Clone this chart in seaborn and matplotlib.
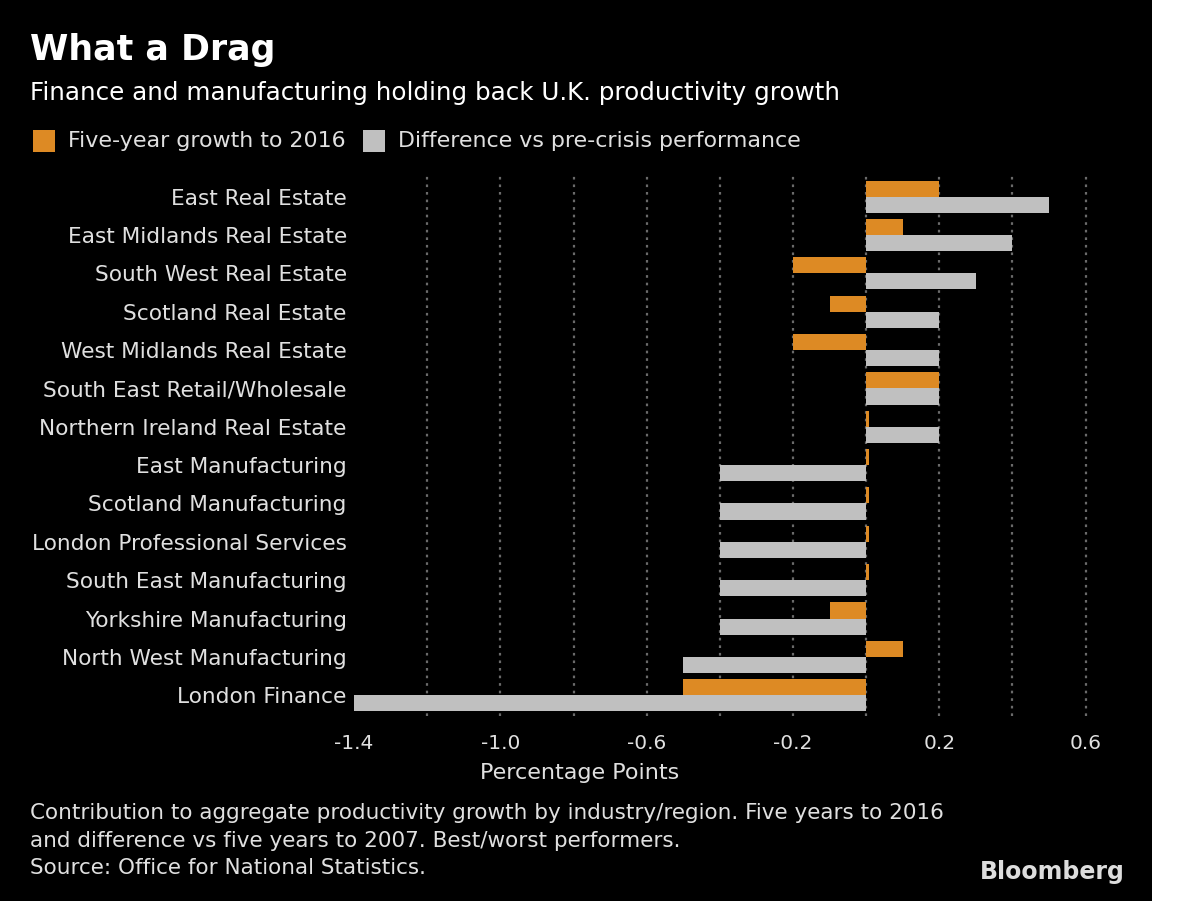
import numpy as np
import pandas as pd
import matplotlib
matplotlib.use("Agg")
import matplotlib.pyplot as plt
from matplotlib.patches import Rectangle
import seaborn as sns

# Data
categories = [
    "East Real Estate", "East Midlands Real Estate", "South West Real Estate",
    "Scotland Real Estate", "West Midlands Real Estate", "South East Retail/Wholesale",
    "Northern Ireland Real Estate", "East Manufacturing", "Scotland Manufacturing",
    "London Professional Services", "South East Manufacturing", "Yorkshire Manufacturing",
    "North West Manufacturing", "London Finance",
]
growth_2016 = [0.2, 0.1, -0.2, -0.1, -0.2, 0.2, 0.008, 0.008, 0.008, 0.008, 0.008, -0.1, 0.1, -0.5]
diff_precrisis = [0.5, 0.4, 0.3, 0.2, 0.2, 0.2, 0.2, -0.4, -0.4, -0.4, -0.4, -0.4, -0.5, -1.4]
series_names = ["Five-year growth to 2016", "Difference vs pre-crisis performance"]
tick_values = [-1.4, -1.0, -0.6, -0.2, 0.2, 0.6]
tick_labels = ["-1.4", "-1.0", "-0.6", "-0.2", "0.2", "0.6"]

orange = "#DD8A24"
grey = "#C0C0C0"
txt = "#E0E0E0"

df = pd.DataFrame({
    "category": categories * 2,
    "value": growth_2016 + diff_precrisis,
    "series": [series_names[0]] * len(categories) + [series_names[1]] * len(categories),
})

sns.set_theme(style="dark")
plt.rcParams["font.family"] = ["DejaVu Sans"]

W, H = 1200, 901
fig = plt.figure(figsize=(12, 9.01), dpi=100, facecolor="black")
ax = fig.add_axes([0.289, 0.205, 0.64, 0.601])
ax.set_facecolor("black")

sns.barplot(data=df, y="category", x="value", hue="series", order=categories,
            hue_order=series_names, palette=[orange, grey], width=0.84,
            orient="h", ax=ax, legend=False, saturation=1, linewidth=0)

# dotted vertical gridlines every 0.2
for g in np.arange(-1.2, 0.61, 0.2):
    ax.axvline(g, color="#6a6a6a", linestyle=(0, (1.2, 2.2)), linewidth=1.6, zorder=0)

ax.set_xlim(-1.42, 0.68)
ax.set_ylim(13.55, -0.57)
ax.set_xticks(tick_values)
ax.set_xticklabels(tick_labels)
ax.tick_params(axis="x", colors=txt, labelsize=14.5, length=0, pad=13)
ax.tick_params(axis="y", colors=txt, labelsize=15.6, length=0, pad=0)
ax.set_xlabel("")
ax.set_ylabel("")
ax.grid(False)
for s in ax.spines.values():
    s.set_visible(False)

# titles
fig.text(30 / W, 1 - 50 / H, "What a Drag", color="white", fontsize=25,
         fontweight="bold", va="center", ha="left")
fig.text(30 / W, 1 - 93 / H, "Finance and manufacturing holding back U.K. productivity growth",
         color="white", fontsize=17.7, va="center", ha="left")

# legend: square swatches + labels
legend_items = [(33, 68, orange, series_names[0]), (363, 398, grey, series_names[1])]
for sx, tx, col, lab in legend_items:
    fig.patches.append(Rectangle((sx / W, 1 - 152 / H), 22 / W, 22 / H,
                                 transform=fig.transFigure, facecolor=col, edgecolor="none"))
    fig.text(tx / W, 1 - 141 / H, lab, color=txt, fontsize=15.9, ha="left", va="center")

fig.text(580 / W, 1 - 773 / H, "Percentage Points", color=txt, fontsize=16,
         ha="center", va="center")

fig.text(30 / W, 1 - 813 / H,
         "Contribution to aggregate productivity growth by industry/region. Five years to 2016",
         color=txt, fontsize=15.5, ha="left", va="center")
fig.text(30 / W, 1 - 841 / H,
         "and difference vs five years to 2007. Best/worst performers.",
         color=txt, fontsize=15.5, ha="left", va="center")
fig.text(30 / W, 1 - 868 / H, "Source: Office for National Statistics.",
         color=txt, fontsize=15.5, ha="left", va="center")
fig.text(1125 / W, 1 - 872 / H, "Bloomberg", color="#DDDDDD", fontsize=17,
         fontweight="bold", ha="right", va="center")

# white strip at right edge
fig.patches.append(Rectangle((1152 / W, 0), 48 / W, 1, transform=fig.transFigure,
                             facecolor="white", edgecolor="none", zorder=10))

fig.savefig("out.png", dpi=100, facecolor="black")
